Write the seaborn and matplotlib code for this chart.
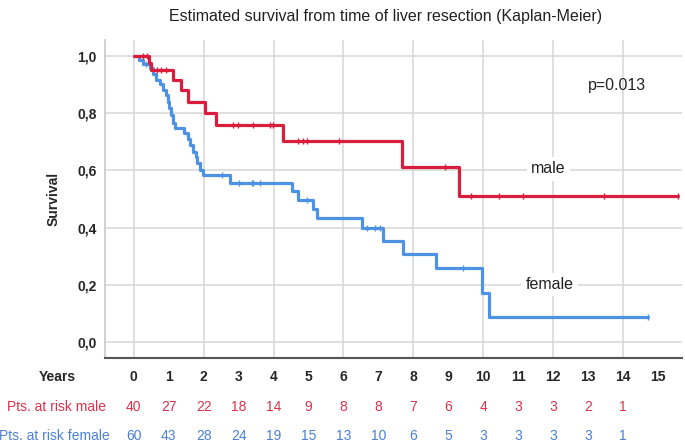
import matplotlib
matplotlib.use('Agg')
import matplotlib.pyplot as plt
import numpy as np
import pandas as pd
import seaborn as sns

# Kaplan-Meier steps (years, survival after step)
male_time = [0, 0.43, 0.49, 1.12, 1.36, 1.55, 2.03, 2.35, 4.28, 7.68, 9.31]
male_surv = [1.0, 0.975, 0.95, 0.915, 0.88, 0.84, 0.80, 0.757, 0.703, 0.613, 0.51]
male_end = 15.59
male_censor = [0.26, 0.37, 0.66, 0.77, 0.92, 2.84, 2.98, 3.41, 3.90, 3.98,
               4.70, 4.84, 4.96, 5.87, 8.91, 9.66, 10.46, 11.15, 13.47, 15.59]

female_time = [0, 0.16, 0.26, 0.45, 0.54, 0.64, 0.74, 0.83, 0.93, 0.97,
               1.02, 1.07, 1.12, 1.17, 1.43, 1.56, 1.62, 1.70, 1.78, 1.81,
               1.89, 1.97, 2.75, 4.52, 4.71, 5.14, 5.23, 6.52, 7.13, 7.70,
               8.65, 9.98, 10.17]
female_surv = [1.0, 0.987, 0.972, 0.958, 0.935, 0.917, 0.90, 0.882, 0.865, 0.84,
               0.818, 0.795, 0.766, 0.748, 0.73, 0.709, 0.689, 0.665, 0.648, 0.625,
               0.601, 0.584, 0.557, 0.528, 0.497, 0.464, 0.433, 0.40, 0.354, 0.307,
               0.257, 0.172, 0.086]
female_end = 14.72
female_censor = [0.36, 2.52, 3.01, 3.38, 3.41, 3.61, 4.95, 6.67, 6.91, 7.05, 9.41, 14.72]

# numbers at risk table
table_years = list(range(16))
risk_male = [40, 27, 22, 18, 14, 9, 8, 8, 7, 6, 4, 3, 3, 2, 1]
risk_female = [60, 43, 28, 24, 19, 15, 13, 10, 6, 5, 3, 3, 3, 3, 1]

red = '#D81E3C'
blue = '#4D92E3'
red_txt = '#D8334C'
blue_txt = '#4A80D6'

sns.set_style('white')
plt.rcParams['font.family'] = ['Liberation Sans', 'DejaVu Sans']

fig = plt.figure(figsize=(6.85, 4.43), dpi=100)
ax = fig.add_axes([0.153, 0.192, 0.843, 0.718])


def curve(t, s, end):
    return pd.DataFrame({'t': list(t) + [end], 's': list(s) + [s[-1]]})


def censor_pts(t, s, c):
    idx = np.searchsorted(t, c, side='right') - 1
    return pd.DataFrame({'t': c, 's': np.array(s)[idx]})


for t, s, end, cens, col in [(female_time, female_surv, female_end, female_censor, blue),
                             (male_time, male_surv, male_end, male_censor, red)]:
    sns.lineplot(data=curve(t, s, end), x='t', y='s', drawstyle='steps-post',
                 estimator=None, sort=False, color=col, lw=2.3, ax=ax, zorder=3)
    sns.scatterplot(data=censor_pts(t, s, cens), x='t', y='s', marker='|', s=22,
                    color=col, linewidth=1.0, ax=ax, zorder=4)

ax.set_xlim(-0.83, 15.7)
ax.set_ylim(-0.056, 1.056)
ax.set_xticks(range(0, 16, 2))
ax.set_xticklabels([])
ax.set_yticks([0, 0.2, 0.4, 0.6, 0.8, 1.0])
ax.set_yticklabels(['0,0', '0,2', '0,4', '0,6', '0,8', '1,0'], fontweight='bold', fontsize=10)
ax.tick_params(length=0, pad=6)
ax.grid(True, color='#d6d6d6', lw=1.1)
ax.set_axisbelow(True)
for sp in ['top', 'right']:
    ax.spines[sp].set_visible(False)
ax.spines['left'].set_color('#c8c8c8')
ax.spines['left'].set_linewidth(1.2)
ax.spines['bottom'].set_color('#555555')
ax.spines['bottom'].set_linewidth(1.5)
ax.set_xlabel('')
ax.set_ylabel('Survival', fontweight='bold', fontsize=10, labelpad=12)

ax.text(11.86, 0.605, 'male', fontsize=11.5, ha='center', va='center', color='#222222',
        bbox=dict(facecolor='white', edgecolor='none', pad=3), zorder=5)
ax.text(11.9, 0.2, 'female', fontsize=11.5, ha='center', va='center', color='#222222',
        bbox=dict(facecolor='white', edgecolor='none', pad=3), zorder=5)
ax.text(13.83, 0.895, 'p=0.013', fontsize=11.5, ha='center', va='center', color='#222222')

fig.text(0.563, 0.962, 'Estimated survival from time of liver resection (Kaplan-Meier)',
         ha='center', va='center', fontsize=11.5, color='#222222')

# at-risk table under the axis
trans = matplotlib.transforms.blended_transform_factory(ax.transData, fig.transFigure)
fig.text(0.083, 0.149, 'Years', ha='center', va='center', fontweight='bold', fontsize=10)
fig.text(0.083, 0.082, 'Pts. at risk male', ha='center', va='center', fontsize=10, color=red_txt)
fig.text(0.080, 0.016, 'Pts. at risk female', ha='center', va='center', fontsize=10, color=blue_txt)
for i, yr in enumerate(table_years):
    ax.text(yr, 0.149, str(yr), transform=trans, ha='center', va='center',
            fontweight='bold', fontsize=10)
    if i < len(risk_male):
        ax.text(yr, 0.082, str(risk_male[i]), transform=trans, ha='center', va='center',
                fontsize=10, color=red_txt)
        ax.text(yr, 0.016, str(risk_female[i]), transform=trans, ha='center', va='center',
                fontsize=10, color=blue_txt)

fig.savefig('out.png', dpi=100)
